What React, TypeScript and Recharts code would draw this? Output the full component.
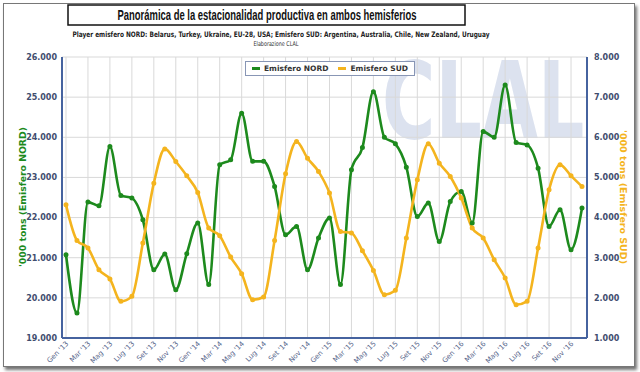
import React from 'react';
import { LineChart, Line, XAxis, YAxis, CartesianGrid, Legend } from 'recharts';

const categories = [
  "Gen '13", "Feb '13", "Mar '13", "Apr '13", "Mag '13", "Giu '13", "Lug '13", "Ago '13", "Set '13", "Ott '13", "Nov '13", "Dic '13",
  "Gen '14", "Feb '14", "Mar '14", "Apr '14", "Mag '14", "Giu '14", "Lug '14", "Ago '14", "Set '14", "Ott '14", "Nov '14", "Dic '14",
  "Gen '15", "Feb '15", "Mar '15", "Apr '15", "Mag '15", "Giu '15", "Lug '15", "Ago '15", "Set '15", "Ott '15", "Nov '15", "Dic '15",
  "Gen '16", "Feb '16", "Mar '16", "Apr '16", "Mag '16", "Giu '16", "Lug '16", "Ago '16", "Set '16", "Ott '16", "Nov '16", "Dic '16",
];

const nord = [
  21075, 19624, 22385, 22294, 23770, 22550, 22485, 21945, 20700, 21090, 20200, 21100,
  21863, 20330, 23313, 23438, 24600, 23400, 23400, 22775, 21572, 21780, 20700, 21490,
  21987, 20330, 23190, 23744, 25137, 24002, 23836, 23256, 22027, 22360, 21405, 22400,
  22650, 21863, 24142, 24002, 25303, 23870, 23810, 23230, 21780, 22195, 21200, 22236,
];

const sud = [
  4318, 3431, 3241, 2701, 2470, 1914, 2037, 3365, 4858, 5711, 5396, 5040,
  4624, 3739, 3547, 3017, 2602, 1955, 2022, 3431, 5090, 5893, 5478, 5147,
  4609, 3654, 3614, 3174, 2684, 2080, 2187, 3490, 4940, 5836, 5356, 5022,
  4485, 3739, 3490, 2950, 2495, 1831, 1914, 3241, 4692, 5313, 5040, 4774,
];

const leftTicks = [19000, 20000, 21000, 22000, 23000, 24000, 25000, 26000];
const rightTicks = [1000, 2000, 3000, 4000, 5000, 6000, 7000, 8000];

const seriesNames = { nord: 'Emisfero NORD', sud: 'Emisfero SUD' };
const title = 'Panorámica de la estacionalidad productiva en ambos hemisferios';
const subtitle = 'Player emisfero NORD: Belarus, Turkey, Ukraine, EU-28, USA; Emisfero SUD: Argentina, Australia, Chile, New Zealand, Uruguay';
const credit = 'Elaborazione CLAL';
const watermark = 'CLAL';
const leftTitle = "'000 tons (Emisfero NORD)";
const rightTitle = "'000 tons (Emisfero SUD)";

const GREEN = '#1d8a1d';
const YELLOW = '#f4b41e';
const AXIS = '#46639f';
const TICK = '#3f4d6e';

const data = categories.map((c, i) => ({ month: c, nord: nord[i], sud: sud[i] }));
const fmt = (v: number) => (v / 1000).toFixed(3);

const XTick = (props: any) => {
  const { x, y, payload } = props;
  const ax = x + 3;
  const ay = y + 6;
  return (
    <text
      x={ax}
      y={ay}
      transform={`rotate(-45 ${ax} ${ay})`}
      textAnchor="end"
      fontSize={7}
      fill="#56658a"
      fontFamily="DejaVu Sans"
    >
      {payload.value}
    </text>
  );
};

const LegendContent = () => (
  <div
    style={{
      display: 'flex',
      alignItems: 'center',
      border: '1px solid #8896b5',
      background: '#fff',
      height: 15,
      padding: '0 6px',
      fontFamily: 'DejaVu Sans',
      fontSize: 7.5,
      fontWeight: 'bold',
      color: '#333',
      boxSizing: 'border-box',
    }}
  >
    <span style={{ display: 'inline-block', width: 8, height: 3, background: GREEN, marginRight: 4 }} />
    <span style={{ marginRight: 10 }}>{seriesNames.nord}</span>
    <span style={{ display: 'inline-block', width: 8, height: 3, background: YELLOW, marginRight: 4 }} />
    <span>{seriesNames.sud}</span>
  </div>
);

export default function App() {
  return (
    <div style={{ position: 'absolute', left: 0, top: 0, width: 640, height: 372, background: '#fff', overflow: 'hidden' }}>
      <div
        style={{
          position: 'absolute',
          left: 3,
          top: 3,
          width: 630,
          height: 362,
          border: '1px solid #777',
          boxShadow: '2px 3px 3px rgba(0,0,0,0.55)',
          background: '#fff',
        }}
      />
      <svg width={640} height={372} style={{ position: 'absolute', left: 0, top: 0 }}>
        <text
          x={0}
          y={138}
          transform="translate(382 0) scale(0.68 1)"
          fontSize={107}
          fontWeight="bold"
          fontFamily="DejaVu Sans"
          fill="#dce2ef"
        >
          {watermark}
        </text>
      </svg>
      <div style={{ position: 'absolute', left: 0, top: 0 }}>
        <LineChart width={640} height={372} data={data} margin={{ top: 57, right: 0, left: 0, bottom: 0 }}>
          <CartesianGrid yAxisId="left" stroke="#d9d9d9" strokeWidth={1} />
          <XAxis
            dataKey="month"
            interval={1}
            height={34}
            padding={{ left: 4, right: 5 }}
            tickSize={0}
            tickMargin={0}
            tick={<XTick />}
            axisLine={{ stroke: AXIS, strokeWidth: 2 }}
          />
          <XAxis
            xAxisId="top"
            orientation="top"
            dataKey="month"
            height={0}
            tick={false}
            tickLine={false}
            axisLine={{ stroke: AXIS, strokeWidth: 2 }}
          />
          <YAxis
            yAxisId="left"
            width={62}
            domain={[19000, 26000]}
            ticks={leftTicks}
            tickFormatter={fmt}
            tickSize={0}
            tickMargin={5}
            tickLine={false}
            axisLine={{ stroke: AXIS, strokeWidth: 2 }}
            tick={{ fontSize: 8, fontWeight: 'bold', fill: TICK, fontFamily: 'DejaVu Sans' }}
          />
          <YAxis
            yAxisId="right"
            orientation="right"
            width={53}
            domain={[1000, 8000]}
            ticks={rightTicks}
            tickFormatter={fmt}
            tickSize={0}
            tickMargin={7}
            tickLine={false}
            axisLine={{ stroke: AXIS, strokeWidth: 2 }}
            tick={{ fontSize: 8, fontWeight: 'bold', fill: TICK, fontFamily: 'DejaVu Sans' }}
          />
          <Legend
            layout="horizontal"
            verticalAlign="middle"
            align="center"
            content={<LegendContent />}
            wrapperStyle={{ position: 'absolute', left: 245, top: 61, width: 'auto', height: 15 }}
          />
          <Line
            yAxisId="left"
            type="monotone"
            dataKey="nord"
            name={seriesNames.nord}
            stroke={GREEN}
            strokeWidth={2.6}
            dot={{ r: 1.2, fill: GREEN, stroke: GREEN }}
            isAnimationActive={false}
          />
          <Line
            yAxisId="right"
            type="monotone"
            dataKey="sud"
            name={seriesNames.sud}
            stroke={YELLOW}
            strokeWidth={2.6}
            dot={{ r: 1.2, fill: YELLOW, stroke: YELLOW }}
            isAnimationActive={false}
          />
        </LineChart>
      </div>
      <svg width={640} height={372} style={{ position: 'absolute', left: 0, top: 0, pointerEvents: 'none' }}>
        <rect x={68} y={5} width={397} height={20} fill="#fff" stroke="#111" strokeWidth={1.5} />
        <text x={267} y={20} textAnchor="middle" fontSize={14} fontWeight="bold" fontFamily="Liberation Sans" fill="#111" textLength={299} lengthAdjust="spacingAndGlyphs">
          {title}
        </text>
        <text x={281} y={37} textAnchor="middle" fontSize={7.5} fontWeight="bold" fontFamily="DejaVu Sans" fill="#222" textLength={417} lengthAdjust="spacingAndGlyphs">
          {subtitle}
        </text>
        <text x={276} y={45.5} textAnchor="middle" fontSize={6.5} fontFamily="DejaVu Sans" fill="#333" textLength={45} lengthAdjust="spacingAndGlyphs">
          {credit}
        </text>
        <text x={25.5} y={197} transform="rotate(-90 25.5 197)" textAnchor="middle" fontSize={9} fontWeight="bold" fontFamily="DejaVu Sans" fill={GREEN} textLength={140} lengthAdjust="spacingAndGlyphs">
          {leftTitle}
        </text>
        <text x={620} y={197} transform="rotate(90 620 197)" textAnchor="middle" fontSize={9} fontWeight="bold" fontFamily="DejaVu Sans" fill={YELLOW} textLength={134} lengthAdjust="spacingAndGlyphs">
          {rightTitle}
        </text>
      </svg>
    </div>
  );
}
